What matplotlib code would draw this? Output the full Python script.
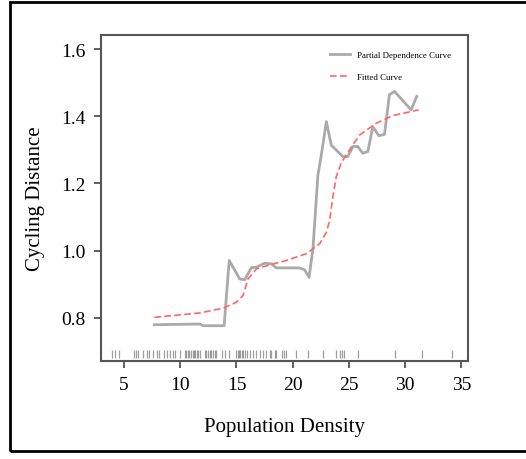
import numpy as np
import matplotlib.pyplot as plt
from matplotlib.patches import Rectangle
from matplotlib.transforms import blended_transform_factory

# Partial dependence curve
pd_x = [7.69, 11.74, 12.04, 13.9, 14.35, 15.29, 15.74, 16.33, 16.77, 17.51, 18.1,
        18.55, 20.6, 21.06, 21.45, 21.8, 22.24, 22.54, 22.99, 23.43, 24.46, 24.9,
        25.35, 25.79, 26.23, 26.68, 27.12, 27.66, 28.16, 28.6, 29.05, 30.53, 31.03]
pd_y = [0.780, 0.782, 0.777, 0.777, 0.971, 0.916, 0.914, 0.950, 0.951, 0.963, 0.961,
        0.949, 0.949, 0.943, 0.921, 1.006, 1.225, 1.284, 1.384, 1.314, 1.280, 1.280,
        1.310, 1.310, 1.290, 1.295, 1.369, 1.342, 1.346, 1.464, 1.474, 1.419, 1.459]

# Fitted curve
fit_x = [7.69, 11.74, 13.8, 15.0, 15.58, 16.03, 16.77, 17.95, 19.44, 21.2, 22.4,
         23.0, 23.28, 23.57, 23.87, 24.3, 24.76, 25.94, 27.42, 28.9, 31.2]
fit_y = [0.802, 0.815, 0.829, 0.847, 0.867, 0.916, 0.946, 0.958, 0.971, 0.991, 1.021,
         1.055, 1.090, 1.160, 1.220, 1.260, 1.285, 1.344, 1.379, 1.402, 1.419]

# Observed population density values (rug)
rug_x = [3.94, 4.2, 4.53, 5.92, 6.07, 6.27, 6.71, 7.01, 7.25, 7.54, 7.9, 8.1, 8.55,
         8.79, 9.11, 9.32, 9.53, 9.97, 10.41, 10.55, 10.68, 10.8, 10.95, 11.1, 11.22,
         11.35, 11.5, 11.62, 11.74, 12.19, 12.33, 12.45, 12.6, 12.75, 12.9, 13.05,
         13.2, 13.67, 13.96, 14.35, 15.0, 15.1, 15.2, 15.3, 15.45, 15.6, 15.75, 15.89,
         16.18, 16.47, 16.77, 17.07, 17.36, 17.66, 17.96, 18.1, 18.4, 18.55, 19.08,
         19.22, 19.37, 20.32, 21.35, 22.68, 23.87, 24.17, 24.4, 24.6, 25.8, 29.13,
         31.5, 34.2]

plt.rcParams['font.family'] = ['Liberation Serif', 'DejaVu Serif']

fig = plt.figure(figsize=(5.26, 4.6), dpi=100)
ax = fig.add_axes([0.192, 0.213, 0.698, 0.709])

ax.plot(pd_x, pd_y, color='#aaaaaa', lw=2, label='Partial Dependence Curve')
ax.plot(fit_x, fit_y, color='#ff6666', lw=1.2, ls=(0, (4, 2)), label='Fitted Curve')

trans = blended_transform_factory(ax.transData, ax.transAxes)
ax.vlines(rug_x, 0.008, 0.035, transform=trans, color='#777777', lw=0.9, alpha=0.7)

ax.set_xlim(2.95, 35.6)
ax.set_ylim(0.672, 1.642)
ax.set_xticks([5, 10, 15, 20, 25, 30, 35])
ax.set_yticks([0.8, 1.0, 1.2, 1.4, 1.6])
ax.set_yticklabels(['0.8', '1.0', '1.2', '1.4', '1.6'])
ax.tick_params(labelsize=14, length=5, width=1.2, color='#444444', pad=6)
for s in ax.spines.values():
    s.set_color('#555555')
    s.set_linewidth(1.5)

ax.set_xlabel('Population Density', fontsize=15, labelpad=17)
ax.set_ylabel('Cycling Distance', fontsize=15, labelpad=12)

ax.legend(loc='upper right', frameon=False, fontsize=6.4, labelspacing=1.5,
          handlelength=2.2, bbox_to_anchor=(0.975, 0.975))

# outer frame around the figure
fig.patches.append(Rectangle((10 / 526, 1 - 452 / 460), 1.1, (449 / 460),
                             transform=fig.transFigure, fill=False,
                             edgecolor='black', lw=2))

fig.savefig('out.png', dpi=100)
